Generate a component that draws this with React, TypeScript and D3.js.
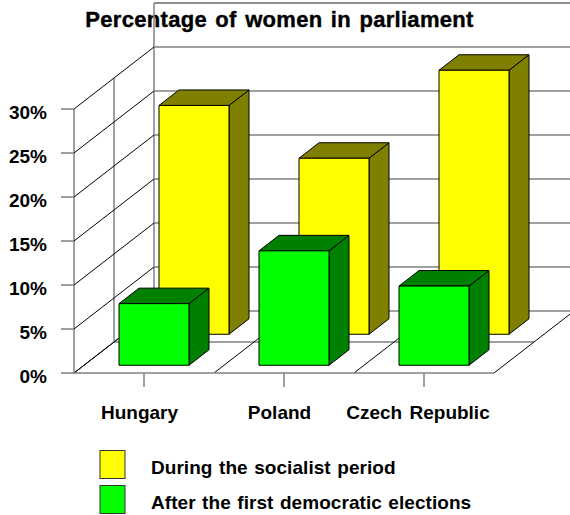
import React from "react";
import * as d3 from "d3";

const categories = ["Hungary", "Poland", "Czech Republic"];
const socialist = [26, 20, 30];
const democratic = [7, 13, 9];
const yTicks = [0, 5, 10, 15, 20, 25, 30];
const seriesNames = ["During the socialist period", "After the first democratic elections"];
const title = "Percentage of women in parliament";

const FONT = "'Liberation Sans', Arial, sans-serif";
const y = d3.scaleLinear().domain([0, 35]).range([373, 65]);
const x = d3.scaleBand<string>().domain(categories).range([74, 494]);
const depthX = d3.scaleLinear().domain([0, 1]).range([0, 80]);
const depthY = d3.scaleLinear().domain([0, 1]).range([0, -62]);
const px = (xv: number, d: number) => xv + depthX(d);
const py = (v: number, d: number) => y(v) + depthY(d);
const barW = 70;
const gray = "#808080";
const gw = 1.5;

function Bar({ cat, v, d0, d1, front, side, top }: { cat: string; v: number; d0: number; d1: number; front: string; side: string; top: string }) {
  const cx = x(cat)! + x.bandwidth() / 2;
  const l = cx - barW / 2;
  const r = cx + barW / 2;
  const pts = (a: [number, number, number][]) => a.map(([X, V, D]) => `${px(X, D)},${py(V, D)}`).join(" ");
  return (
    <g stroke="#000" strokeWidth={1} strokeLinejoin="round">
      <polygon points={pts([[r, 0, d0], [r, 0, d1], [r, v, d1], [r, v, d0]])} fill={side} />
      <polygon points={pts([[l, v, d0], [r, v, d0], [r, v, d1], [l, v, d1]])} fill={top} />
      <polygon points={pts([[l, 0, d0], [r, 0, d0], [r, v, d0], [l, v, d0]])} fill={front} />
    </g>
  );
}

export default function App() {
  const x0 = 74;
  const x1 = 494;
  const boundaries = [x0, ...categories.map((c) => x(c)! + x.bandwidth())];
  return (
    <svg width={570} height={515} style={{ position: "absolute", left: 0, top: 0, background: "#fff" }} fontFamily={FONT} fontWeight="bold" fill="#000">
      <text x={279.5} y={27} textAnchor="middle" fontSize={22} letterSpacing={0.3} wordSpacing={2} stroke="#000" strokeWidth={0.4}>{title}</text>

      {/* back wall */}
      {yTicks.map((t) => (
        <line key={t} x1={px(x0, 1)} x2={px(x1, 1)} y1={py(t, 1)} y2={py(t, 1)} stroke={gray} strokeWidth={gw} />
      ))}
      <line x1={px(x0, 1)} x2={px(x1, 1)} y1={py(35, 1)} y2={py(35, 1)} stroke="#222" strokeWidth={1.2} />
      <line x1={px(x0, 1)} x2={px(x0, 1)} y1={py(0, 1)} y2={py(35, 1)} stroke={gray} strokeWidth={gw} />

      {/* side wall */}
      <line x1={px(x0, 0)} x2={px(x0, 0)} y1={py(0, 0)} y2={py(30, 0)} stroke={gray} strokeWidth={gw} />
      <line x1={px(x0, 0.5)} x2={px(x0, 0.5)} y1={py(0, 0.5)} y2={py(30, 0.5)} stroke={gray} strokeWidth={gw} />
      {yTicks.map((t) => (
        <line key={t} x1={px(x0, 0)} x2={px(x0, 1)} y1={py(t, 0)} y2={py(t, 1)} stroke="#000" strokeWidth={1} />
      ))}

      {/* floor */}
      <line x1={px(x0, 0.5)} x2={px(x1, 0.5)} y1={py(0, 0.5)} y2={py(0, 0.5)} stroke={gray} strokeWidth={gw} />
      {boundaries.map((b) => (
        <line key={b} x1={px(b, 0)} x2={px(b, 1)} y1={py(0, 0)} y2={py(0, 1)} stroke="#000" strokeWidth={1} />
      ))}
      <line x1={61} x2={x1} y1={y(0)} y2={y(0)} stroke={gray} strokeWidth={gw} />
      {yTicks.slice(1).map((t) => (
        <line key={t} x1={61} x2={x0} y1={y(t)} y2={y(t)} stroke={gray} strokeWidth={gw} />
      ))}
      {categories.map((c) => {
        const cx = x(c)! + x.bandwidth() / 2;
        return <line key={c} x1={cx} x2={cx} y1={y(0)} y2={387} stroke={gray} strokeWidth={gw} />;
      })}

      {/* bars */}
      {categories.map((c, i) => (
        <Bar key={c} cat={c} v={socialist[i]} d0={5 / 8} d1={7 / 8} front="#ffff00" side="#808000" top="#808000" />
      ))}
      {categories.map((c, i) => (
        <Bar key={c} cat={c} v={democratic[i]} d0={1 / 8} d1={3 / 8} front="#00ff00" side="#008000" top="#008000" />
      ))}

      {/* labels */}
      {yTicks.map((t) => (
        <text key={t} x={47} y={y(t) + 10} textAnchor="end" fontSize={19}>{t}%</text>
      ))}
      <text x={139.5} y={418.5} textAnchor="middle" fontSize={19} letterSpacing={0}>{categories[0]}</text>
      <text x={279.5} y={418.5} textAnchor="middle" fontSize={19} letterSpacing={0}>{categories[1]}</text>
      <text x={418} y={418.5} textAnchor="middle" fontSize={19} letterSpacing={0} wordSpacing={2}>{categories[2]}</text>

      {/* legend */}
      {seriesNames.map((s, i) => (
        <g key={s}>
          <rect x={100} y={450.5 + i * 35} width={25} height={28} fill={i === 0 ? "#ffff00" : "#00ff00"} stroke="#333" />
          <text x={151} y={474 + i * 35} fontSize={19} letterSpacing={0.05} wordSpacing={1.2}>{s}</text>
        </g>
      ))}
    </svg>
  );
}
